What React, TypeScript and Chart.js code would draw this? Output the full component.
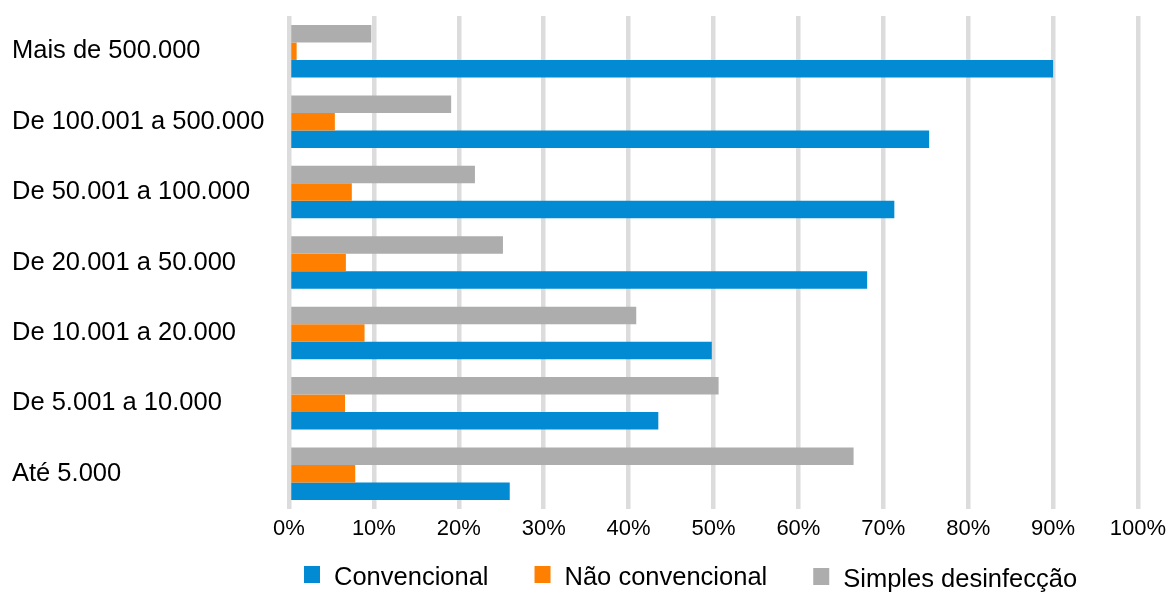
import { useEffect, useRef } from 'react';
import { Chart, registerables } from 'chart.js';

Chart.register(...registerables);

const categories = [
  'Mais de 500.000',
  'De 100.001 a 500.000',
  'De 50.001 a 100.000',
  'De 20.001 a 50.000',
  'De 10.001 a 20.000',
  'De 5.001 a 10.000',
  'Até 5.000',
];
const convencional = [90.0, 75.4, 71.3, 68.1, 49.8, 43.5, 26.0];
const naoConvencional = [0.9, 5.4, 7.4, 6.7, 8.9, 6.6, 7.8];
const simplesDesinfeccao = [9.7, 19.1, 21.9, 25.2, 40.9, 50.6, 66.5];
const seriesLabels = ['Convencional', 'Não convencional', 'Simples desinfecção'];
const xTickLabels = ['0%', '10%', '20%', '30%', '40%', '50%', '60%', '70%', '80%', '90%', '100%'];

const BLUE = '#028BD3';
const ORANGE = '#FF7F00';
const GRAY = '#ADADAD';
const FONT_FAMILY = '"Liberation Sans", Arial, Helvetica, sans-serif';

const legendPlugin = {
  id: 'bottomLegend',
  afterDraw(chart: any) {
    const ctx = chart.ctx;
    const ds = chart.data.datasets;
    const order = [2, 1, 0];
    ctx.save();
    ctx.font = `25.5px ${FONT_FAMILY}`;
    ctx.textBaseline = 'middle';
    ctx.textAlign = 'left';
    let x = 304;
    order.forEach((idx, k) => {
      const d = ds[idx];
      const dy = k === 2 ? 2 : 0;
      ctx.fillStyle = d.backgroundColor;
      ctx.fillRect(x, 566 + dy, 16, 17);
      ctx.fillStyle = '#000';
      const tx = x + 30;
      ctx.fillText(d.label, tx, 578 + dy);
      const w = ctx.measureText(d.label).width;
      x = tx + w + 46;
    });
    ctx.restore();
  },
};

export default function App() {
  const ref = useRef<HTMLCanvasElement | null>(null);

  useEffect(() => {
    if (!ref.current) return;
    const chart = new Chart(ref.current, {
      type: 'bar',
      data: {
        labels: categories,
        datasets: [
          { label: seriesLabels[2], data: simplesDesinfeccao, backgroundColor: GRAY },
          { label: seriesLabels[1], data: naoConvencional, backgroundColor: ORANGE },
          { label: seriesLabels[0], data: convencional, backgroundColor: BLUE },
        ],
      },
      options: {
        indexAxis: 'y',
        responsive: false,
        animation: false,
        layout: { padding: { left: 12, right: 28, top: 16, bottom: 46 } },
        datasets: { bar: { categoryPercentage: 0.745, barPercentage: 1 } },
        plugins: { legend: { display: false }, tooltip: { enabled: false } },
        scales: {
          x: {
            min: 0,
            max: 100,
            ticks: {
              stepSize: 10,
              autoSkip: false,
              maxRotation: 0,
              padding: 7,
              color: '#000',
              font: { family: FONT_FAMILY, size: 22 },
              callback: (_v: any, i: number) => xTickLabels[i],
            },
            grid: { color: '#DCDCDC', lineWidth: 4.5, drawTicks: false },
            border: { display: false },
            afterFit: (s: any) => {
              s.height = 38;
              s.paddingLeft = 0;
              s.paddingRight = 0;
            },
          },
          y: {
            ticks: {
              crossAlign: 'far',
              autoSkip: false,
              padding: 0,
              color: '#000',
              font: { family: FONT_FAMILY, size: 25.5 },
            },
            grid: { display: false, drawTicks: false },
            border: { display: false },
            afterFit: (s: any) => {
              s.width = 277;
              s.paddingTop = 0;
              s.paddingBottom = 0;
            },
          },
        },
      } as any,
      plugins: [legendPlugin],
    });
    return () => chart.destroy();
  }, []);

  return (
    <canvas
      ref={ref}
      width={1166}
      height={593}
      style={{ position: 'absolute', left: 0, top: 0, display: 'block' }}
    />
  );
}
